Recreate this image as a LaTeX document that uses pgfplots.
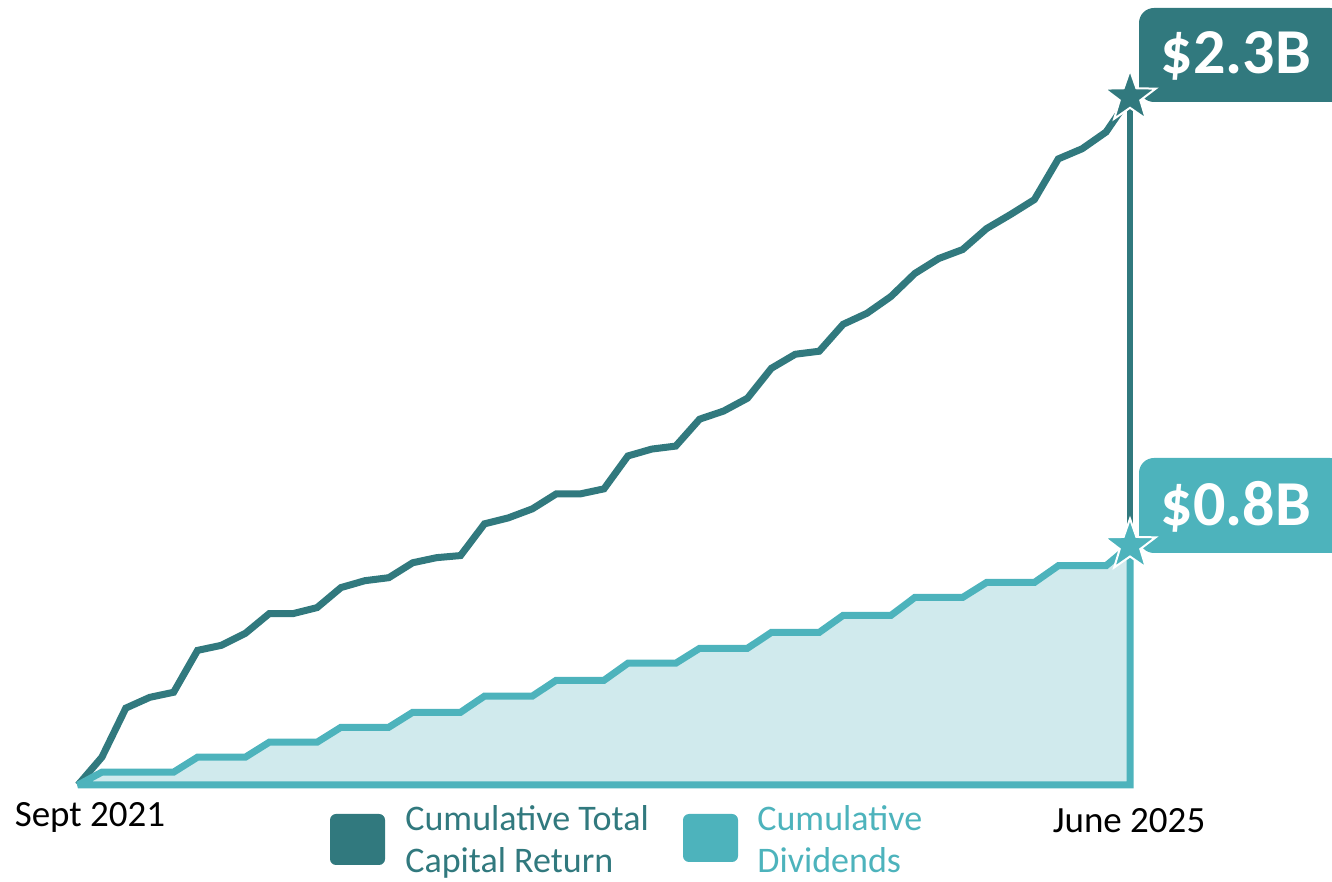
\documentclass[border=0pt]{standalone}
\usepackage{pgfplots}
\pgfplotsset{compat=1.18}
\usepackage{pgfplotstable}
\usepackage{fontspec}
\setmainfont{Carlito}

\definecolor{darkteal}{HTML}{31797E}
\definecolor{lightteal}{HTML}{4DB3BC}
\definecolor{areafill}{HTML}{D0EAED}

% five-pointed filled star used as the end marker
\pgfdeclareplotmark{fivestar}{%
  \pgfpathmoveto{\pgfpointpolar{90}{\pgfplotmarksize}}%
  \pgfpathlineto{\pgfpointpolar{126}{0.4\pgfplotmarksize}}%
  \pgfpathlineto{\pgfpointpolar{162}{\pgfplotmarksize}}%
  \pgfpathlineto{\pgfpointpolar{198}{0.4\pgfplotmarksize}}%
  \pgfpathlineto{\pgfpointpolar{234}{\pgfplotmarksize}}%
  \pgfpathlineto{\pgfpointpolar{270}{0.4\pgfplotmarksize}}%
  \pgfpathlineto{\pgfpointpolar{306}{\pgfplotmarksize}}%
  \pgfpathlineto{\pgfpointpolar{342}{0.4\pgfplotmarksize}}%
  \pgfpathlineto{\pgfpointpolar{18}{\pgfplotmarksize}}%
  \pgfpathlineto{\pgfpointpolar{54}{0.4\pgfplotmarksize}}%
  \pgfpathclose
  \pgfusepathqfillstroke
}

% monthly cumulative values, $ billions
\pgfplotstableread{
idx total div
0  0.000 0.000
1  0.093 0.043
2  0.257 0.043
3  0.293 0.043
4  0.310 0.043
5  0.450 0.093
6  0.467 0.093
7  0.507 0.093
8  0.573 0.143
9  0.573 0.143
10 0.593 0.143
11 0.660 0.193
12 0.683 0.193
13 0.693 0.193
14 0.743 0.243
15 0.760 0.243
16 0.767 0.243
17 0.873 0.297
18 0.893 0.297
19 0.923 0.297
20 0.973 0.350
21 0.973 0.350
22 0.990 0.350
23 1.100 0.407
24 1.123 0.407
25 1.133 0.407
26 1.223 0.457
27 1.250 0.457
28 1.293 0.457
29 1.393 0.510
30 1.440 0.510
31 1.450 0.510
32 1.540 0.567
33 1.577 0.567
34 1.633 0.567
35 1.710 0.627
36 1.760 0.627
37 1.790 0.627
38 1.860 0.677
39 1.907 0.677
40 1.957 0.677
41 2.093 0.733
42 2.127 0.733
43 2.183 0.733
44 2.300 0.800
}\capdata

% helper: position in a 1332 x 882 grid, origin top left
\newcommand{\gp}[2]{({0.5pt*(#1)},{0.5pt*(882-(#2))})}

\begin{document}
\begin{tikzpicture}
\useasboundingbox (0,0) rectangle (666pt,441pt);

% value call-out boxes
\fill[darkteal, rounded corners=7.5pt] \gp{1139}{8} rectangle \gp{1345}{102};
\fill[lightteal, rounded corners=7.5pt] \gp{1139}{458} rectangle \gp{1345}{553};
\node[text=white, font=\fontsize{32}{32}\selectfont\bfseries] at \gp{1236}{56} {\$2.3B};
\node[text=white, font=\fontsize{32}{32}\selectfont\bfseries] at \gp{1236}{507} {\$0.8B};

\begin{axis}[
  at={(39pt,48.5pt)}, anchor=south west,
  scale only axis, width=526pt, height=344pt,
  xmin=0, xmax=44, ymin=0, ymax=2.3,
  hide axis, clip=false,
]
  % connector between the two end values
  \addplot[darkteal, line width=3pt] coordinates {(44,0.8) (44,2.3)};
  % total capital return
  \addplot[darkteal, line width=3.5pt, line join=miter]
    table[x=idx, y=total] {\capdata};
  % dividends: shaded area with outline down to the base
  \addplot[draw=lightteal, fill=areafill, line width=3.5pt,
    line join=miter, miter limit=1.5]
    table[x=idx, y=div] {\capdata} \closedcycle;
  % end markers
  \addplot[only marks, mark=fivestar, mark size=13.5pt,
    mark options={fill=darkteal, draw=white, line width=1pt}]
    coordinates {(44,2.3)};
  \addplot[only marks, mark=fivestar, mark size=13.5pt,
    mark options={fill=lightteal, draw=white, line width=1pt}]
    coordinates {(44,0.8)};
\end{axis}

% period labels
\node[font=\fontsize{18.5}{21}\selectfont] at \gp{90}{817} {Sept 2021};
\node[font=\fontsize{18.5}{21}\selectfont] at \gp{1129}{821} {June 2025};

% legend
\fill[darkteal, rounded corners=3pt] \gp{330}{814} rectangle \gp{385}{865};
\fill[lightteal, rounded corners=3pt] \gp{683}{814} rectangle \gp{738}{862};
\node[anchor=west, align=left, text=darkteal, inner sep=0pt,
  font=\fontsize{18}{21}\selectfont] at \gp{405}{842}
  {Cumulative Total\\Capital Return};
\node[anchor=west, align=left, text=lightteal, inner sep=0pt,
  font=\fontsize{18}{21}\selectfont] at \gp{757}{839}
  {Cumulative\\Dividends};
\end{tikzpicture}
\end{document}
